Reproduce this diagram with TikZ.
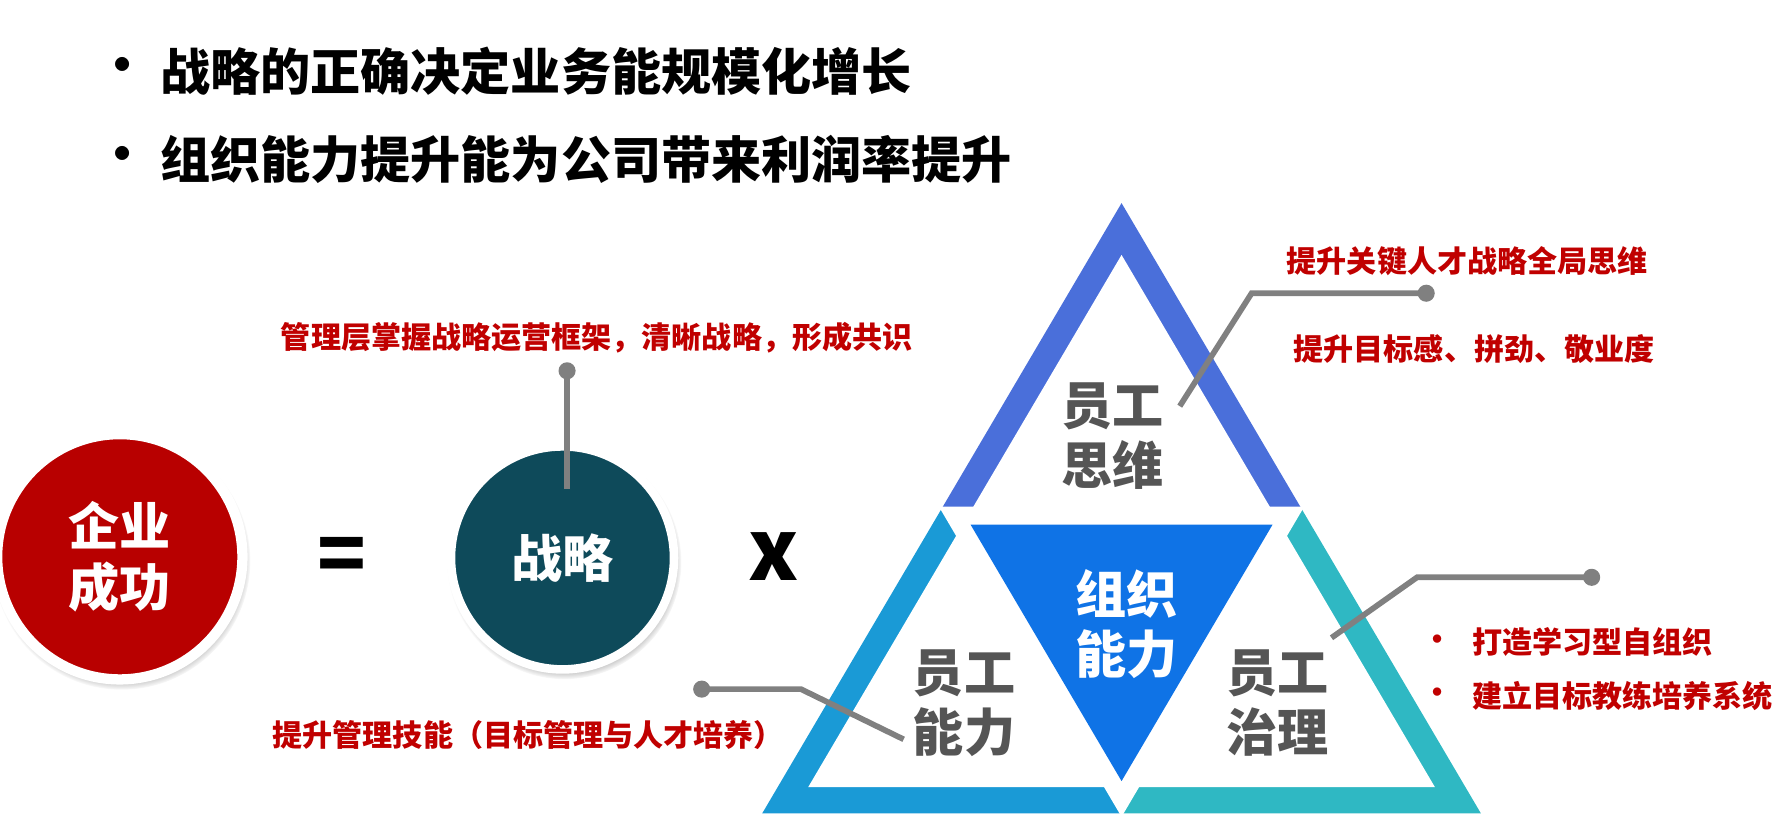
\documentclass[tikz,border=0pt]{standalone}
\usepackage{fontspec}
\setmainfont{Noto Sans CJK SC}
\usetikzlibrary{calc, positioning, shadows}

\definecolor{notered}{HTML}{C00000}
\definecolor{ballred}{HTML}{B80000}
\definecolor{ballteal}{HTML}{0E4A5A}
\definecolor{tritop}{HTML}{4A6FDA}
\definecolor{trileft}{HTML}{1A9AD6}
\definecolor{triright}{HTML}{2FB8C3}
\definecolor{trimid}{HTML}{0F73E6}
\definecolor{labelgray}{HTML}{555555}
\definecolor{leadgray}{HTML}{808080}

\begin{document}
\begin{tikzpicture}[x=0.02cm, y=-0.02cm,
title/.style = {font=\fontsize{25}{30}\selectfont\bfseries, anchor=west, inner sep=0pt},
note/.style  = {font=\fontsize{15}{18}\selectfont\bfseries, text=notered, inner sep=0pt},
big/.style   = {font=\fontsize{25.5}{30}\selectfont\bfseries, align=center, inner sep=0pt},
ball/.style  = {circle, inner sep=0pt, draw=white, text=white,
                circular drop shadow={shadow xshift=0.03cm, shadow yshift=-0.07cm,
                                      shadow scale=1.05}},
dot/.style   = {circle, fill=leadgray, inner sep=0pt, minimum size=0.3cm},
lead/.style  = {draw=leadgray, line width=0.1cm},
                    ]
\useasboundingbox (0,0) rectangle (1568,727.5);
%---
\node (b1) [font=\fontsize{25}{30}\selectfont\bfseries] at (107,62) {•};
\node (l1) [title] at (140,62) {战略的正确决定业务能规模化增长};
\node (b2) [font=\fontsize{25}{30}\selectfont\bfseries] at (107,140) {•};
\node (l2) [title] at (140,140) {组织能力提升能为公司带来利润率提升};

%--- equation
\node (success) [ball, big, fill=ballred, minimum size=4.3cm, line width=0.18cm]
      at (105,488) {企业\\成功};
\node (eq) [font=\fontsize{40}{40}\selectfont\bfseries, inner sep=0pt] at (300,491) {=};
\node (strat) [ball, big, fill=ballteal, minimum size=3.91cm, line width=0.15cm]
      at (493,489) {战略};
\node (times) [font=\fontsize{42}{42}\selectfont\bfseries, inner sep=0pt] at (678,488) {x};

%--- triangle
\coordinate (a)  at (983,178);
\coordinate (bl) at (668,713);
\coordinate (br) at (1298,713);
\coordinate (ml) at ($(a)!0.5!(bl)$);
\coordinate (mr) at ($(a)!0.5!(br)$);
\coordinate (mb) at ($(bl)!0.5!(br)$);
\coordinate (ic) at (983,532.9);
\coordinate (mc) at (983,535.5);

\fill[tritop]   (a) -- (ml) -- (mr) -- cycle;
\fill[trileft]  (ml) -- (bl) -- (mb) -- cycle;
\fill[triright] (mr) -- (mb) -- (br) -- cycle;
\fill[white] ($(ic)!0.872!(a)$) -- ($(ic)!0.872!(bl)$) -- ($(ic)!0.872!(br)$) -- cycle;
\draw[white, line width=0.06cm] (ml) -- (mr) -- (mb) -- cycle;
\fill[trimid] ($(mc)!0.84!(ml)$) -- ($(mc)!0.84!(mr)$) -- ($(mc)!0.84!(mb)$) -- cycle;

\node (think) [big, text=labelgray] at (975,382) {员工\\思维};
\node (abil)  [big, text=labelgray] at (845,616) {员工\\能力};
\node (gov)   [big, text=labelgray] at (1120,616) {员工\\治理};
\node (org)   [big, text=white]     at (987,547) {组织\\能力};

%--- notes
\node (n_strat)  [note] at (523,296) {管理层掌握战略运营框架，清晰战略，形成共识};
\node (n_think)  [note] at (1286,229) {提升关键人才战略全局思维};
\node (n_think2) [note] at (1292,306) {提升目标感、拼劲、敬业度};
\node (n_abil)   [note] at (463,644) {提升管理技能（目标管理与人才培养）};
\node (n_gov)    [note, anchor=west] at (1290,563) {打造学习型自组织};
\node (n_gov2)   [note, anchor=west] at (1290,610) {建立目标教练培养系统};
\node (nb1) [note, left=6mm of n_gov.west, anchor=center] {•};
\node (nb2) [note, left=6mm of n_gov2.west, anchor=center] {•};

%--- leads
\node (d_strat) [dot] at (497,325) {};
\node (d_think) [dot] at (1250,257) {};
\node (d_gov)   [dot] at (1395,506) {};
\node (d_abil)  [dot] at (615,604) {};
\coordinate (e_strat) at (497,429);
\coordinate (k_think) at (1097,257);
\coordinate (e_think) at (1034,356);
\coordinate (k_gov)   at (1242,506);
\coordinate (e_gov)   at (1167,559);
\coordinate (k_abil)  at (702,604);
\coordinate (e_abil)  at (792,648);

\path[lead]
        (d_strat.center) edge (e_strat)
        (d_think.center) -- (k_think) -- (e_think)
        (d_gov.center) -- (k_gov) -- (e_gov)
        (d_abil.center) -- (k_abil) -- (e_abil);
\end{tikzpicture}
\end{document}
